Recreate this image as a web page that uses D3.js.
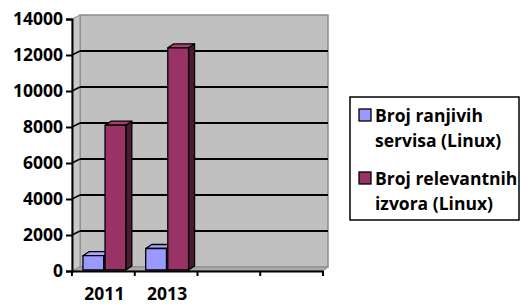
<!DOCTYPE html>
<html>
<head>
<meta charset="utf-8">
<script src="https://cdn.jsdelivr.net/npm/d3@7.9.0/dist/d3.min.js"></script>
<style>
  html, body { margin: 0; padding: 0; background: #fff; }
  svg { display: block; font-family: 'Open Sans', sans-serif; font-weight: bold; }
</style>
</head>
<body>
<div id="chart"></div>
<script>
const categories = ['2011', '2013', '', ' '];
const seriesNames = ['Broj ranjivih servisa (Linux)', 'Broj relevantnih izvora (Linux)'];
const ranjivi = [850, 1250, null, null];
const izvori = [8100, 12400, null, null];
const yTicks = [0, 2000, 4000, 6000, 8000, 10000, 12000, 14000];
const legendLines = [['Broj ranjivih', 'servisa (Linux)'], ['Broj relevantnih', 'izvora (Linux)']];

const width = 521, height = 304;
const depth = { dx: 8, dy: -4 };
const front = { left: 72, right: 323, top: 19, bottom: 271 };
const fontSize = '17.5px';

const colors = [
  { face: '#9999ff', top: '#a6a6ff', side: '#4d4d99' },
  { face: '#993366', top: '#a8406f', side: '#4d1933' }
];

const svg = d3.select('#chart').append('svg')
  .attr('width', width).attr('height', height);

const x = d3.scaleBand().domain(categories).range([front.left, front.right]);
const xInner = d3.scaleBand().domain([0, 1]).range([0, x.bandwidth()]).paddingOuter(0.45).paddingInner(0.06);
const y = d3.scaleLinear().domain([0, 14000]).range([front.bottom, front.top]);

// walls
const wall = svg.append('g');
const bx = front.left + depth.dx, by = depth.dy;
const backRight = front.right + 5;
wall.append('rect')
  .attr('x', bx).attr('y', front.top + by)
  .attr('width', backRight - bx)
  .attr('height', front.bottom - front.top)
  .attr('fill', '#c0c0c0')
  .attr('stroke', '#8c8c8c').attr('stroke-width', 1.5);
wall.append('path')
  .attr('d', `M${front.left},${front.top} L${bx},${front.top + by} L${bx},${front.bottom + by} L${front.left},${front.bottom} Z`)
  .attr('fill', '#c8c8c8').attr('stroke', '#8c8c8c').attr('stroke-width', 1);
wall.append('path')
  .attr('d', `M${front.left},${front.bottom} L${bx},${front.bottom + by} L${backRight},${front.bottom + by} L${front.right},${front.bottom} Z`)
  .attr('fill', '#a8a8a8').attr('stroke', '#8c8c8c').attr('stroke-width', 1);

// gridlines
const grid = svg.append('g');
yTicks.filter(d => d > 0 && d < 14000).forEach(t => {
  const yy = y(t);
  grid.append('line')
    .attr('x1', bx).attr('x2', backRight)
    .attr('y1', yy + by).attr('y2', yy + by)
    .attr('stroke', '#000').attr('stroke-width', 2);
  grid.append('line')
    .attr('x1', front.left).attr('x2', bx)
    .attr('y1', yy).attr('y2', yy + by)
    .attr('stroke', '#000').attr('stroke-width', 1.5);
});

// bars
const bars = svg.append('g');
const bd = { dx: 6, dy: -4 };
[ranjivi, izvori].forEach((vals, si) => {
  vals.forEach((v, i) => {
    if (v == null) return;
    const x0 = x(categories[i]) + xInner(si) + 1;
    const w = xInner.bandwidth();
    const y0 = y(v), y1 = y(0) - 1;
    const c = colors[si];
    const g = bars.append('g').attr('stroke', '#000').attr('stroke-width', 1.3).attr('stroke-linejoin', 'round');
    g.append('path')
      .attr('d', `M${x0 + w},${y0} L${x0 + w + bd.dx},${y0 + bd.dy} L${x0 + w + bd.dx},${y1 + bd.dy} L${x0 + w},${y1} Z`)
      .attr('fill', c.side);
    g.append('path')
      .attr('d', `M${x0},${y0} L${x0 + bd.dx},${y0 + bd.dy} L${x0 + w + bd.dx},${y0 + bd.dy} L${x0 + w},${y0} Z`)
      .attr('fill', c.top);
    g.append('rect')
      .attr('x', x0).attr('y', y0).attr('width', w).attr('height', y1 - y0)
      .attr('fill', c.face);
  });
});

// axes
const yAxis = svg.append('g')
  .attr('transform', `translate(${front.left},0)`)
  .call(d3.axisLeft(y).tickValues(yTicks).tickFormat(d3.format('d')).tickSize(6).tickPadding(3));
const xAxis = svg.append('g')
  .attr('transform', `translate(0,${front.bottom})`)
  .call(d3.axisBottom(x).tickValues([]).tickSizeOuter(0));
xAxis.selectAll('.tickline').data(d3.range(categories.length + 1)).join('line')
  .attr('x1', i => front.left + i * x.step()).attr('x2', i => front.left + i * x.step())
  .attr('y1', 0).attr('y2', 5).attr('stroke', '#000').attr('stroke-width', 2);
xAxis.selectAll('.lbl').data(categories).join('text')
  .attr('x', d => x(d) + x.bandwidth() / 2 + 1)
  .attr('y', 29)
  .attr('text-anchor', 'middle')
  .attr('fill', '#000')
  .style('font-size', fontSize)
  .text(d => d.trim());

[yAxis, xAxis].forEach(a => {
  a.attr('font-family', null).attr('font-size', null);
  a.select('.domain').attr('stroke', '#000').attr('stroke-width', 2);
  a.selectAll('.tick line').attr('stroke', '#000').attr('stroke-width', 2);
  a.selectAll('.tick text').attr('fill', '#000').style('font-size', fontSize);
});

// legend
const legend = svg.append('g').attr('transform', 'translate(350,97)');
legend.append('rect')
  .attr('width', 169).attr('height', 123)
  .attr('fill', '#fff').attr('stroke', '#000').attr('stroke-width', 1.5);
seriesNames.forEach((name, i) => {
  const gy = 12 + i * 63;
  const item = legend.append('g').attr('transform', `translate(0,${gy})`);
  item.append('rect')
    .attr('x', 9).attr('y', 0).attr('width', 12).attr('height', 12)
    .attr('fill', colors[i].face).attr('stroke', '#000').attr('stroke-width', 1.3);
  legendLines[i].forEach((line, j) => {
    item.append('text')
      .attr('x', 25).attr('y', 13 + j * 25)
      .style('font-size', fontSize)
      .attr('fill', '#000')
      .text(line);
  });
});
</script>
</body>
</html>
